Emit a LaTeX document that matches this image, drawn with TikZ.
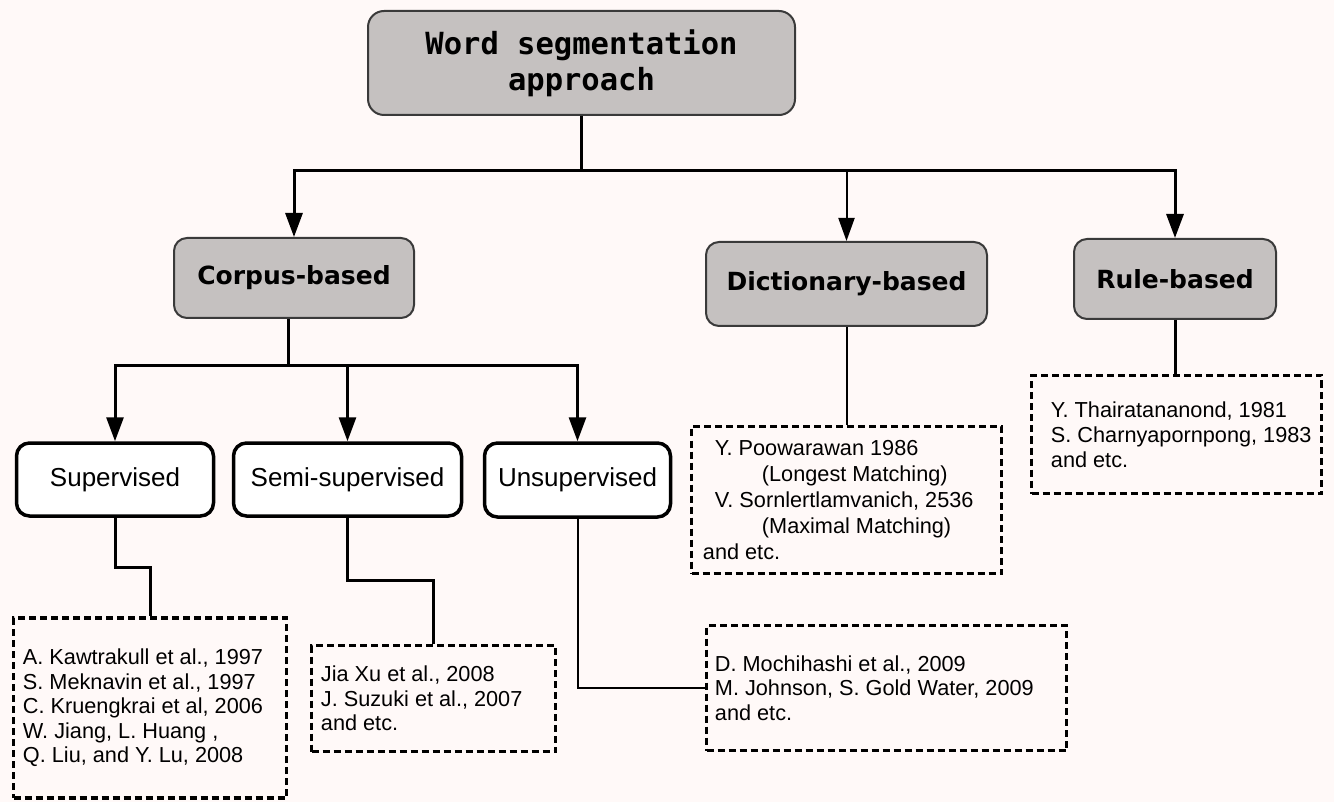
\documentclass[tikz,border=0pt]{standalone}
\usepackage{fontspec}
\setmainfont{Liberation Sans}
\newfontfamily\headfont{DejaVu Sans}
\newfontfamily\rootfont{DejaVu Sans Mono}
\usetikzlibrary{arrows.meta}

\definecolor{paper}{HTML}{FFF9F8}
\definecolor{boxgray}{HTML}{C5C1C0}
\definecolor{edgegray}{HTML}{3A3A3A}

\tikzset{
  rootbox/.style={draw=edgegray, fill=boxgray, rounded corners=16pt, line width=2pt,
    minimum width=427pt, minimum height=104pt, inner sep=0pt, align=center,
    font=\rootfont\bfseries\fontsize{30.5}{36}\selectfont},
  catbox/.style={draw=edgegray, fill=boxgray, rounded corners=13pt, line width=2pt,
    inner sep=0pt, font=\headfont\bfseries\fontsize{25}{30}\selectfont},
  subbox/.style={draw=black, fill=white, rounded corners=13pt, line width=3.5pt,
    inner sep=0pt, font=\fontsize{26}{30}\selectfont},
  refbox/.style={draw=black, dash pattern=on 7pt off 4pt, line width=3.5pt, inner sep=0pt},
  reftext/.style={anchor=west, inner sep=0pt, align=left,
    font=\fontsize{21.7}{24.5}\selectfont},
  link/.style={line width=3pt},
  thinlink/.style={line width=2pt},
  arr/.style={link, -{Triangle[width=17pt,length=24pt]}},
  thinarr/.style={thinlink, -{Triangle[width=16pt,length=23pt]}},
}

\begin{document}
\begin{tikzpicture}[x=1pt, y=-1pt]
  % page
  \fill[paper] (0,0) rectangle (1334,802);
  \useasboundingbox (0,0) rectangle (1334,802);

  % root
  \node[rootbox] (root) at (581.5,63) {Word segmentation\\approach};

  % categories
  \node[catbox, minimum width=240pt, minimum height=80pt] (corpus) at (294,278) {Corpus-based};
  \node[catbox, minimum width=281pt, minimum height=84pt] (dict) at (846.5,284) {Dictionary-based};
  \node[catbox, minimum width=202pt, minimum height=80pt] (rule) at (1175,279) {Rule-based};

  % corpus sub-types
  \node[subbox, minimum width=197pt, minimum height=73pt] (sup) at (115,479.5) {Supervised};
  \node[subbox, minimum width=228pt, minimum height=73pt] (semi) at (347.5,479.5) {Semi-supervised};
  \node[subbox, minimum width=186pt, minimum height=74pt] (unsup) at (577.5,480) {Unsupervised};

  % reference boxes
  \node[refbox, minimum width=273pt, minimum height=180pt] (supref) at (150,708) {};
  \node[reftext] (suptext) at ([xshift=11pt]supref.west) {A. Kawtrakull et al., 1997\\S. Meknavin et al., 1997\\C. Kruengkrai et al, 2006\\W. Jiang, L. Huang ,\\Q. Liu, and Y. Lu, 2008};

  \node[refbox, minimum width=244pt, minimum height=106pt] (semiref) at (433.5,698.5) {};
  \node[reftext] (semitext) at ([xshift=11pt]semiref.west) {Jia Xu et al., 2008\\J. Suzuki et al., 2007\\and etc.};

  \node[refbox, minimum width=360pt, minimum height=125pt] (unsupref) at (886.5,688) {};
  \node[reftext] (unsuptext) at ([xshift=10pt]unsupref.west) {D. Mochihashi et al., 2009\\M. Johnson, S. Gold Water, 2009\\and etc.};

  \node[refbox, minimum width=310pt, minimum height=147pt] (dictref) at (846.5,500) {};
  \node[reftext, font=\fontsize{21.7}{26}\selectfont] (dicttext) at ([xshift=13pt]dictref.west)
    {\hspace*{12pt}Y. Poowarawan 1986\\\hspace*{59pt}(Longest Matching)\\\hspace*{12pt}V. Sornlertlamvanich, 2536\\\hspace*{59pt}(Maximal Matching)\\and etc.};

  \node[refbox, minimum width=290pt, minimum height=118pt] (ruleref) at (1176.5,434.5) {};
  \node[reftext, font=\fontsize{21.7}{25}\selectfont] (ruletext) at ([xshift=21pt]ruleref.west) {Y. Thairatananond, 1981\\S. Charnyapornpong, 1983\\and etc.};

  % root to categories
  \coordinate (rootjoin) at (root.south |- 0,171);
  \draw[link] (root.south) -- (rootjoin);
  \draw[arr] (rootjoin) -| (corpus.north);
  \draw[thinarr] (rootjoin) -| (dict.north);
  \draw[arr] (rootjoin) -| (rule.north);

  % corpus to sub-types
  \coordinate (corpjoin) at ([xshift=-6pt]corpus.south |- 0,366);
  \draw[link] ([xshift=-6pt]corpus.south) -- (corpjoin);
  \draw[arr] (corpjoin) -| (sup.north);
  \draw[arr] (corpjoin) -| (semi.north);
  \draw[arr] (corpjoin) -| (unsup.north);

  % sub-types to references
  \draw[link] (sup.south) -- ++(0,50) -| (supref.north);
  \draw[link] (semi.south) -- ++(0,63) -| (semiref.north);
  \draw[thinlink] (unsup.south) |- (unsupref.west);
  \draw[thinlink] (dict.south) -- (dictref.north);
  \draw[link] (rule.south) -- (rule.south |- ruleref.north);
\end{tikzpicture}
\end{document}
